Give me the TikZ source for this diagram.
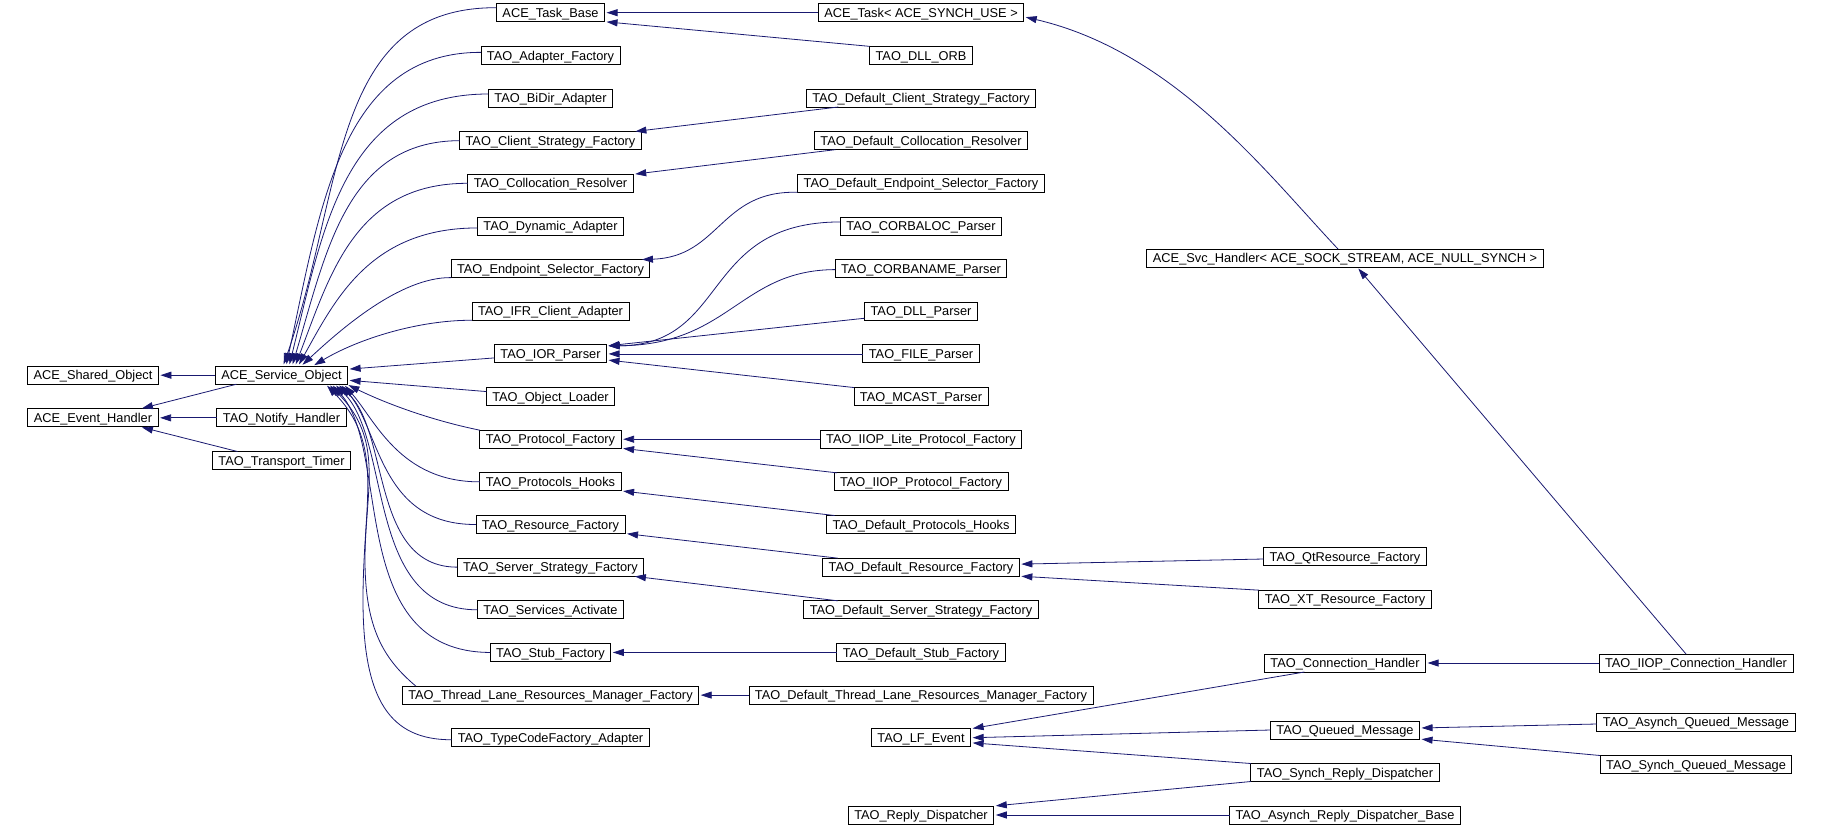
\documentclass[tikz,border=0pt]{standalone}
\usepackage{fontspec}
\setmainfont{Liberation Sans}
\usetikzlibrary{arrows.meta, positioning}
\definecolor{edgeblue}{HTML}{191970}
\tikzset{
    cls/.style={rectangle, draw=black, line width=0.9pt, fill=white, inner xsep=6pt, inner ysep=0pt, outer sep=0pt, minimum height=18pt, text height=11pt, text depth=1.7pt, font=\fontsize{12.8}{14}\selectfont},
    inherit/.style={-{Triangle[length=11pt, width=7pt]}, draw=edgeblue, line width=0.8pt, shorten >=2pt},
}
\begin{document}
\begin{tikzpicture}[x=1pt, y=-1pt, node distance=24.65pt]
    \useasboundingbox (0,0) rectangle (1825,827);

    % Roots and ACE_Service_Object
    \node[cls] (svc) at (281.5,375.2) {ACE\_Service\_Object};
    \node[cls, below=of svc] (notify) {TAO\_Notify\_Handler};
    \node[cls, below=of notify] (ttimer) {TAO\_Transport\_Timer};
    \node[cls] (shared) at (93,375.2) {ACE\_Shared\_Object};
    \node[cls] (evh) at (notify -| shared) {ACE\_Event\_Handler};

    % Direct children of ACE_Service_Object
    \node[cls] (taskbase) at (550.5,12.7) {ACE\_Task\_Base};
    \node[cls, below=of taskbase] (adapterf) {TAO\_Adapter\_Factory};
    \node[cls, below=of adapterf] (bidir) {TAO\_BiDir\_Adapter};
    \node[cls, below=of bidir] (clientsf) {TAO\_Client\_Strategy\_Factory};
    \node[cls, below=of clientsf] (colloc) {TAO\_Collocation\_Resolver};
    \node[cls, below=of colloc] (dynamic) {TAO\_Dynamic\_Adapter};
    \node[cls, below=of dynamic] (endpointsf) {TAO\_Endpoint\_Selector\_Factory};
    \node[cls, below=of endpointsf] (ifr) {TAO\_IFR\_Client\_Adapter};
    \node[cls, below=of ifr] (iorparser) {TAO\_IOR\_Parser};
    \node[cls, below=of iorparser] (objloader) {TAO\_Object\_Loader};
    \node[cls, below=of objloader] (protof) {TAO\_Protocol\_Factory};
    \node[cls, below=of protof] (protohooks) {TAO\_Protocols\_Hooks};
    \node[cls, below=of protohooks] (resf) {TAO\_Resource\_Factory};
    \node[cls, below=of resf] (serversf) {TAO\_Server\_Strategy\_Factory};
    \node[cls, below=of serversf] (svcact) {TAO\_Services\_Activate};
    \node[cls, below=of svcact] (stubf) {TAO\_Stub\_Factory};
    \node[cls, below=of stubf] (tlrmf) {TAO\_Thread\_Lane\_Resources\_Manager\_Factory};
    \node[cls, below=of tlrmf] (tcfa) {TAO\_TypeCodeFactory\_Adapter};

    % Next level
    \node[cls] (acetask) at (921,12.7) {ACE\_Task< ACE\_SYNCH\_USE >};
    \node[cls] (dllorb) at (adapterf -| acetask) {TAO\_DLL\_ORB};
    \node[cls] (defclientsf) at (bidir -| acetask) {TAO\_Default\_Client\_Strategy\_Factory};
    \node[cls] (defcolloc) at (clientsf -| acetask) {TAO\_Default\_Collocation\_Resolver};
    \node[cls] (defendpointsf) at (colloc -| acetask) {TAO\_Default\_Endpoint\_Selector\_Factory};
    \node[cls] (corbaloc) at (dynamic -| acetask) {TAO\_CORBALOC\_Parser};
    \node[cls] (corbaname) at (endpointsf -| acetask) {TAO\_CORBANAME\_Parser};
    \node[cls] (dllparser) at (ifr -| acetask) {TAO\_DLL\_Parser};
    \node[cls] (fileparser) at (iorparser -| acetask) {TAO\_FILE\_Parser};
    \node[cls] (mcastparser) at (objloader -| acetask) {TAO\_MCAST\_Parser};
    \node[cls] (iiopliteprotof) at (protof -| acetask) {TAO\_IIOP\_Lite\_Protocol\_Factory};
    \node[cls] (iiopprotof) at (protohooks -| acetask) {TAO\_IIOP\_Protocol\_Factory};
    \node[cls] (defprotohooks) at (resf -| acetask) {TAO\_Default\_Protocols\_Hooks};
    \node[cls] (defresf) at (serversf -| acetask) {TAO\_Default\_Resource\_Factory};
    \node[cls] (defserversf) at (svcact -| acetask) {TAO\_Default\_Server\_Strategy\_Factory};
    \node[cls] (defstubf) at (stubf -| acetask) {TAO\_Default\_Stub\_Factory};
    \node[cls] (deftlrmf) at (tlrmf -| acetask) {TAO\_Default\_Thread\_Lane\_Resources\_Manager\_Factory};
    \node[cls] (lfevent) at (tcfa -| acetask) {TAO\_LF\_Event};
    \node[cls] (replydisp) at (921,815) {TAO\_Reply\_Dispatcher};

    % Right part
    \node[cls] (svchandler) at (1345,258) {ACE\_Svc\_Handler< ACE\_SOCK\_STREAM, ACE\_NULL\_SYNCH >};
    \node[cls] (qtresf) at (1345,556.5) {TAO\_QtResource\_Factory};
    \node[cls, below=of qtresf] (xtresf) {TAO\_XT\_Resource\_Factory};
    \node[cls] (iiopconn) at (1696,663) {TAO\_IIOP\_Connection\_Handler};
    \node[cls] (connhandler) at (iiopconn -| svchandler) {TAO\_Connection\_Handler};
    \node[cls] (queuedmsg) at (1345,730) {TAO\_Queued\_Message};
    \node[cls] (synchreply) at (1345,772.5) {TAO\_Synch\_Reply\_Dispatcher};
    \node[cls] (asynchreply) at (replydisp -| svchandler) {TAO\_Asynch\_Reply\_Dispatcher\_Base};
    \node[cls] (asynchqueued) at (1696,722) {TAO\_Asynch\_Queued\_Message};
    \node[cls] (synchqueued) at (1696,764.5) {TAO\_Synch\_Queued\_Message};

    % Left edges
    \draw[inherit] (svc) -- (shared);
    \draw[inherit] ([xshift=-45pt]svc.south) -- ([xshift=47pt]evh.north);
    \draw[inherit] (notify) -- (evh);
    \draw[inherit] ([xshift=-44pt]ttimer.north) -- ([xshift=47pt]evh.south);

    % Into ACE_Service_Object from above
    \draw[inherit] ([yshift=5pt]taskbase.west) .. controls (330,7) and (345,190) .. ([xshift=1.5pt]svc.north);
    \draw[inherit] ([yshift=3pt]adapterf.west) .. controls (340,52) and (320,210) .. ([xshift=4.5pt]svc.north);
    \draw[inherit] ([yshift=4pt]bidir.west) .. controls (343,94) and (323,230) .. ([xshift=7.5pt]svc.north);
    \draw[inherit] (clientsf.west) .. controls (346,141) and (326,253) .. ([xshift=10.5pt]svc.north);
    \draw[inherit] (colloc.west) .. controls (355,183) and (330,275) .. ([xshift=13.5pt]svc.north);
    \draw[inherit] ([yshift=-2pt]dynamic.west) .. controls (370,228) and (335,300) .. ([xshift=16.5pt]svc.north);
    \draw[inherit] (endpointsf.south west) .. controls (400,277) and (340,330) .. ([xshift=19.5pt]svc.north);
    \draw[inherit] (ifr.south west) .. controls (420,320) and (360,338) .. ([xshift=31pt]svc.north);
    \draw[inherit] ([yshift=-4pt]iorparser.west) -- ([yshift=6pt]svc.east);
    \draw[inherit] ([yshift=5pt]objloader.west) -- ([yshift=-5pt]svc.east);

    % Into ACE_Service_Object from below
    \draw[inherit] (protof.north west) .. controls (430,420) and (385,403) .. ([xshift=-1pt]svc.south east);
    \draw[inherit] (protohooks.west) .. controls (400,482) and (375,420) .. ([xshift=-4pt]svc.south east);
    \draw[inherit] (resf.west) .. controls (380,525) and (380,430) .. ([xshift=-7pt]svc.south east);
    \draw[inherit] (serversf.west) .. controls (370,567) and (390,430) .. ([xshift=-10pt]svc.south east);
    \draw[inherit] (svcact.west) .. controls (365,610) and (392,440) .. ([xshift=-13pt]svc.south east);
    \draw[inherit] (stubf.west) .. controls (345,652) and (392,450) .. ([xshift=-16pt]svc.south east);
    \draw[inherit] ([xshift=13.5pt]tlrmf.north west) .. controls (385,660) and (365,630) .. (365,560)
        .. controls (365,490) and (385,440) .. ([xshift=-19pt]svc.south east);
    \draw[inherit] ([yshift=-2pt]tcfa.west) .. controls (390,740) and (363,700) .. (363,600)
        .. controls (363,500) and (385,445) .. ([xshift=-22pt]svc.south east);

    % Second level edges
    \draw[inherit] (acetask) -- (taskbase);
    \draw[inherit] (dllorb.north west) -- (taskbase.south east);
    \draw[inherit] ([xshift=32pt]defclientsf.south west) -- ([xshift=-8pt]clientsf.north east);
    \draw[inherit] ([xshift=21pt]defcolloc.south west) -- (colloc.north east);
    \draw[inherit] (defendpointsf.south west) .. controls (720,190) and (720,257) .. ([xshift=-10pt]endpointsf.north east);
    \draw[inherit] ([yshift=4pt]corbaloc.west) .. controls (700,222) and (730,345) .. ([yshift=8pt]iorparser.east);
    \draw[inherit] ([yshift=-1pt]corbaname.west) .. controls (740,270) and (730,345) .. ([yshift=8pt]iorparser.east);
    \draw[inherit] ([yshift=-7pt]dllparser.west) -- ([yshift=8pt]iorparser.east);
    \draw[inherit] (fileparser) -- (iorparser);
    \draw[inherit] (mcastparser.north west) -- ([yshift=-6pt]iorparser.east);
    \draw[inherit] (iiopliteprotof) -- (protof);
    \draw[inherit] ([xshift=3pt]iiopprotof.north west) -- (protof.south east);
    \draw[inherit] ([xshift=8pt]defprotohooks.north west) -- (protohooks.south east);
    \draw[inherit] ([xshift=15pt]defresf.north west) -- (resf.south east);
    \draw[inherit] ([xshift=34pt]defserversf.north west) -- ([xshift=-11pt]serversf.south east);
    \draw[inherit] (defstubf) -- (stubf);
    \draw[inherit] (deftlrmf) -- (tlrmf);

    % Right part edges
    \draw[inherit] ([yshift=-2.5pt]qtresf.west) -- ([yshift=3pt]defresf.east);
    \draw[inherit] (xtresf.north west) -- (defresf.south east);
    \draw[inherit] ([xshift=-7pt]svchandler.north) .. controls (1268,175) and (1175,52) .. ([yshift=-4pt]acetask.east);
    \draw[inherit] ([xshift=-10pt]iiopconn.north) -- ([xshift=12pt]svchandler.south);
    \draw[inherit] (iiopconn) -- (connhandler);
    \draw[inherit] ([xshift=40pt]connhandler.south west) -- (lfevent.north east);
    \draw[inherit] (queuedmsg.west) -- (lfevent.east);
    \draw[inherit] (synchreply.north west) -- ([yshift=-5pt]lfevent.east);
    \draw[inherit] (synchreply.south west) -- (replydisp.north east);
    \draw[inherit] (asynchreply) -- (replydisp);
    \draw[inherit] ([yshift=-2pt]asynchqueued.west) -- ([yshift=2pt]queuedmsg.east);
    \draw[inherit] (synchqueued.north west) -- (queuedmsg.south east);
\end{tikzpicture}
\end{document}
